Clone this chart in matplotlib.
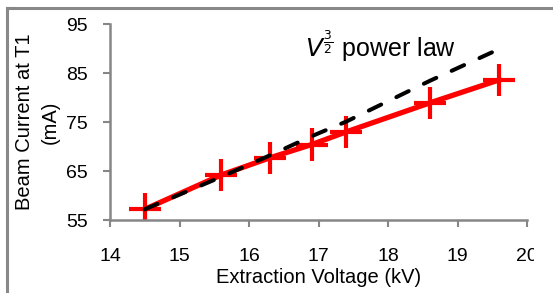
# Beam current vs extraction voltage with a V^(3/2) power-law guide

import matplotlib
matplotlib.use("Agg")
import matplotlib.pyplot as plt
from matplotlib.lines import Line2D
from matplotlib.transforms import Bbox, TransformedBbox

# measured points
voltage_kv = [14.5, 15.6, 16.3, 16.9, 17.4, 18.6, 19.6]
current_ma = [57.2, 64.2, 67.7, 70.4, 73.0, 78.9, 83.6]
voltage_err = [0.23, 0.23, 0.23, 0.23, 0.23, 0.23, 0.23]
current_err = [3.3, 3.3, 3.3, 3.3, 3.3, 3.3, 3.3]

# power law guide
law_kv = [14.5, 15.6, 16.3, 16.9, 17.4, 18.6, 19.6]
law_ma = [57.2, 63.8, 68.2, 72.1, 75.1, 83.4, 89.9]

x_ticks = [14, 15, 16, 17, 18, 19, 20]
y_ticks = [55, 65, 75, 85, 95]

plt.rcParams['font.family'] = ['Liberation Sans', 'DejaVu Sans']
plt.rcParams['mathtext.fontset'] = 'dejavusans'

fig = plt.figure(figsize=(5.53, 2.93), dpi=100)
ax = fig.add_axes([0.199, 0.249, 0.754, 0.669])

axis_gray = '#868686'

ax.errorbar(voltage_kv, current_ma, xerr=voltage_err, yerr=current_err,
            color='#ff0000', lw=3.8, elinewidth=3.0, capsize=0, zorder=2)
ax.plot(law_kv, law_ma, color='black', lw=2.9, linestyle=(0, (3.4, 4.2)),
        dash_capstyle='round', zorder=3)

ax.text(16.8, 88.4, r"$V^{\frac{3}{2}}$ power law", fontsize=18,
        ha='left', va='baseline')

ax.set_xlim(14, 20)
ax.set_ylim(55, 95)
ax.set_xticks(x_ticks)
ax.set_yticks(y_ticks)

for side in ['top', 'right']:
    ax.spines[side].set_visible(False)
for side in ['left', 'bottom']:
    ax.spines[side].set_color(axis_gray)
    ax.spines[side].set_linewidth(1.8)

ax.tick_params(axis='both', direction='out', length=5, width=1.5,
               color=axis_gray, labelsize=14)
ax.tick_params(axis='x', pad=15)
ax.tick_params(axis='y', pad=11)

ax.set_xlabel("Extraction Voltage (kV)", fontsize=14.5, labelpad=2)
fig.text(37 / 553, 1 - 122 / 293, "Beam Current at T1\n(mA)", fontsize=14.5,
         rotation=90, ha='center', va='center', multialignment='center',
         linespacing=1.45)

# the "20" label is cut off in the source
fig.canvas.draw()
clip = TransformedBbox(Bbox([[0, 0], [534 / 553, 1]]), fig.transFigure)
for lab in ax.get_xticklabels():
    lab.set_clip_box(clip)
    lab.set_clip_on(True)

# gray outer frame (left and top only)
fig.add_artist(Line2D([7 / 553, 7 / 553], [0, 1 - 8 / 293], color='#888888',
                      lw=2.2, transform=fig.transFigure))
fig.add_artist(Line2D([7 / 553, 1], [1 - 8 / 293, 1 - 8 / 293], color='#888888',
                      lw=2.2, transform=fig.transFigure))

fig.savefig("out.png", dpi=100)
